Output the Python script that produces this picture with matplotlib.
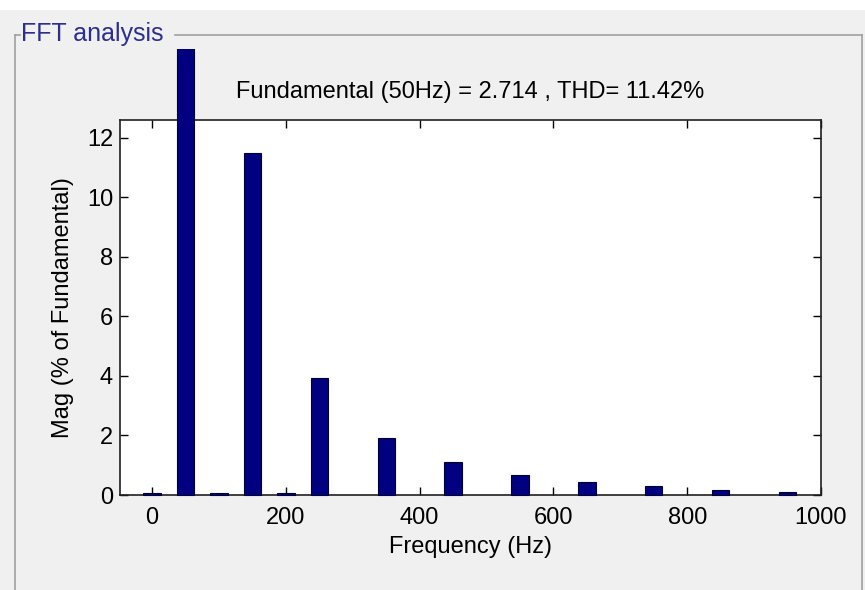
import matplotlib
matplotlib.use("Agg")
import matplotlib.pyplot as plt
from matplotlib.patches import Rectangle
from matplotlib.lines import Line2D
from matplotlib.transforms import Bbox, TransformedBbox

plt.rcParams['font.family'] = ['Liberation Sans', 'DejaVu Sans']

# Harmonic spectrum, magnitude in % of the fundamental
freqs = [0, 50, 100, 150, 200, 250, 300, 350, 400, 450,
         500, 550, 600, 650, 700, 750, 800, 850, 900, 950]
mags = [0.08, 100.0, 0.07, 11.5, 0.07, 3.94, 0.0, 1.92, 0.0, 1.1,
        0.0, 0.67, 0.0, 0.43, 0.0, 0.3, 0.0, 0.18, 0.0, 0.11]
xticks = [0, 200, 400, 600, 800, 1000]
yticks = [0, 2, 4, 6, 8, 10, 12]
title_text = "Fundamental (50Hz) = 2.714 , THD= 11.42%"
panel_title = "FFT analysis"

W, H = 865, 590
FS = 17
fig = plt.figure(figsize=(W / 100, H / 100), dpi=100)
fig.patch.set_facecolor('white')

# gray panel background
fig.patches.append(Rectangle((0, 0), 1, 1 - 10 / H, transform=fig.transFigure,
                             facecolor='#f0f0f0', edgecolor='none', zorder=-10))

# panel frame lines (left, top split by the title, right)
def fig_line(x0, y0, x1, y1):
    fig.lines.append(Line2D([x0 / W, x1 / W], [1 - y0 / H, 1 - y1 / H],
                            transform=fig.transFigure, color='#a0a0a0', lw=1.2))

fig_line(15, 35, 15, H)
fig_line(15, 35, 20, 35)
fig_line(175, 35, 862, 35)
fig_line(862, 35, 862, H)
fig.text(21 / W, 1 - 34 / H, panel_title, color='#2e2e90', fontsize=18,
         va='center', ha='left')

left, right, top, bottom = 120, 821, 120, 495
ax = fig.add_axes([left / W, 1 - bottom / H, (right - left) / W, (bottom - top) / H])
ax.set_facecolor('white')

# only non-empty harmonics get a bar
bar_x = [f for f, m in zip(freqs, mags) if m > 0]
bar_h = [m for m in mags if m > 0]
bars = ax.bar(bar_x, bar_h, width=26, color='#000080', edgecolor='#000030',
              linewidth=0.8, zorder=3)

# the fundamental bar runs past the plot box, up to the panel edge
clip = TransformedBbox(Bbox([[0, 0], [1, 1 - 49 / H]]), fig.transFigure)
for b in bars:
    b.set_clip_path(None)
    b.set_clip_box(clip)

ax.set_xlim(-48, 1000)
ax.set_ylim(0, 12.6)
ax.set_xticks(xticks)
ax.set_yticks(yticks)
ax.tick_params(direction='in', length=6, width=1, top=True, right=True,
               labelsize=FS, colors='black')
ax.tick_params(axis='x', pad=9)
ax.tick_params(axis='y', pad=5)
for s in ax.spines.values():
    s.set_linewidth(1.2)
    s.set_color('#202020')

ax.set_xlabel('Frequency (Hz)', fontsize=FS, labelpad=5)
ax.set_ylabel('Mag (% of Fundamental)', fontsize=FS, labelpad=9)
fig.text((left + right) / 2 / W, 1 - 92 / H, title_text, fontsize=FS,
         ha='center', va='center')

fig.savefig('out.png', dpi=100, facecolor=fig.get_facecolor())
